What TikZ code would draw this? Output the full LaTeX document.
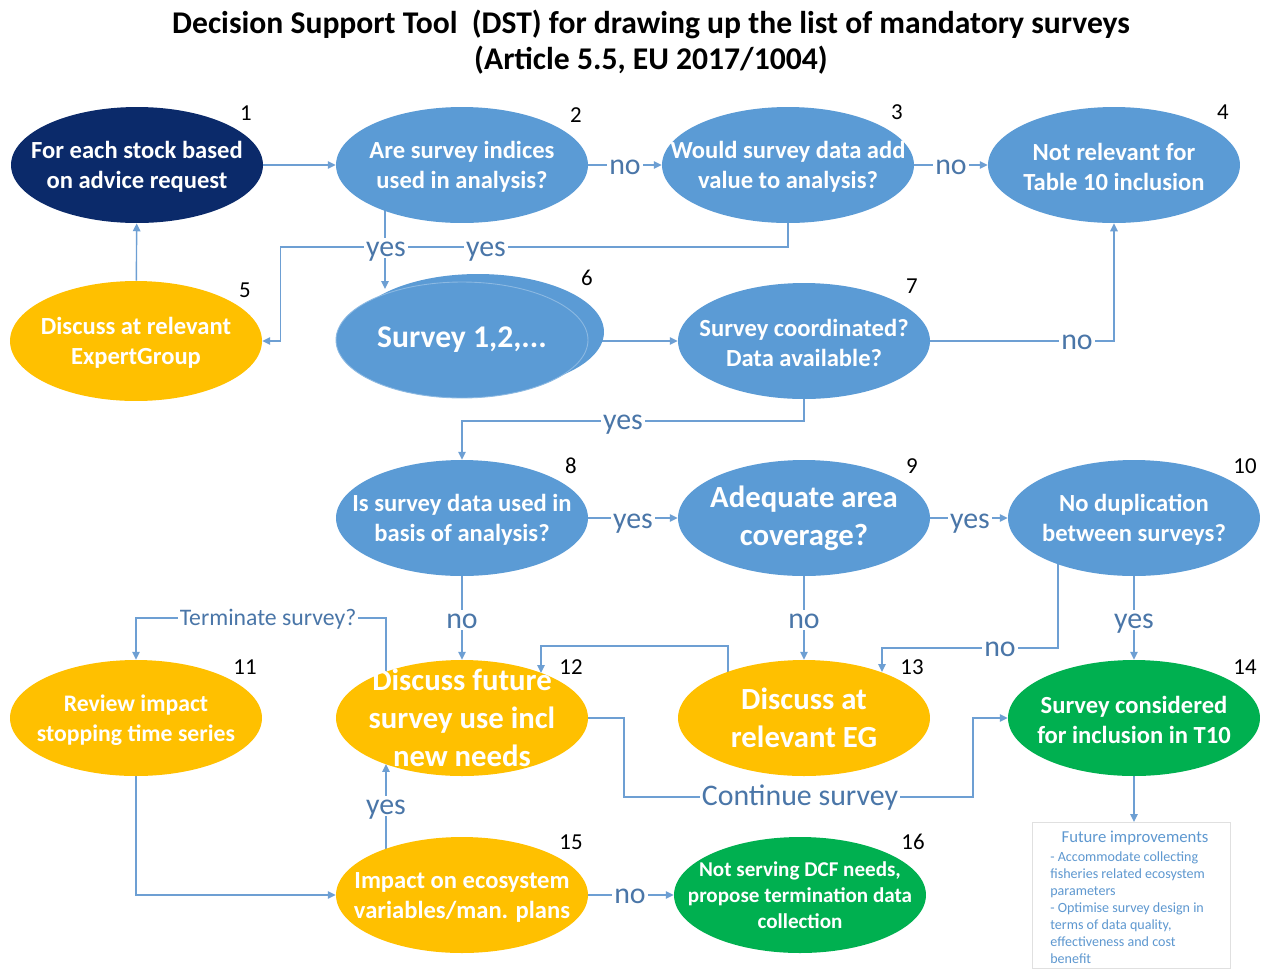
\documentclass[tikz,border=0pt]{standalone}
\usepackage{fontspec}
\setmainfont{Carlito}
\usetikzlibrary{shapes.geometric,arrows.meta,calc}
\definecolor{dstblue}{HTML}{5B9BD5}
\definecolor{dstnavy}{HTML}{0B2A6A}
\definecolor{dstorange}{HTML}{FFC000}
\definecolor{dstgreen}{HTML}{00B050}
\definecolor{linecol}{HTML}{6D9FD3}
\definecolor{lblcol}{HTML}{4A76A8}
\definecolor{fitext}{HTML}{5E98D0}
\pgfdeclarelayer{background}
\pgfsetlayers{background,main}
\begin{document}
\begin{tikzpicture}[x=0.02cm,y=-0.02cm,
  ell/.style={ellipse, minimum width=5.04cm, minimum height=2.32cm, inner sep=0pt},
  bluenode/.style={ell, fill=dstblue},
  navynode/.style={ell, fill=dstnavy},
  orangenode/.style={ell, fill=dstorange},
  greennode/.style={ell, fill=dstgreen},
  nodetext/.style={text=white, align=center, inner sep=0pt, yshift=-1.2pt, font=\bfseries\fontsize{14}{17}\selectfont},
  smalltext/.style={text=white, align=center, inner sep=0pt, font=\bfseries\fontsize{12}{14.8}\selectfont},
  bigtext/.style={text=white, align=center, inner sep=0pt, font=\bfseries\fontsize{17.5}{21.6}\selectfont},
  numlbl/.style={font=\fontsize{13}{15}\selectfont, text=black, inner sep=0pt},
  conn/.style={draw=linecol, line width=0.8pt},
  arr/.style={conn, -{Triangle[length=4.5pt,width=4.2pt]}},
  lbl/.style={fill=white, text=lblcol, inner xsep=1.2pt, inner ysep=0.5pt, text height=10pt, text depth=0pt, font=\fontsize{17}{20}\selectfont},
  smalllbl/.style={lbl, text height=8pt, font=\fontsize{13.5}{16}\selectfont},
]
\useasboundingbox (0,0) rectangle (1268,968);
\begin{pgfonlayer}{background}
\fill[white] (0,0) rectangle (1268,968);
\end{pgfonlayer}

% title
\node[font=\bfseries\fontsize{18}{20.5}\selectfont, align=center, inner sep=0pt] (title) at (651,42)
  {Decision Support Tool\ \ (DST) for drawing up the list of mandatory surveys\\(Article 5.5, EU 2017/1004)};

% ellipses
\node[navynode] (n1) at (137,165) {};
\node[bluenode] (n2) at (462,165) {};
\node[bluenode] (n3) at (788,165) {};
\node[bluenode] (n4) at (1114,165) {};
\node[orangenode, minimum height=2.4cm] (n5) at (136,341) {};
\node[bluenode] (n6b) at (478,332) {};
\node[bluenode, draw=white!30!dstblue, line width=0.5pt] (n6) at (462,340) {};
\node[bluenode] (n7) at (804,341) {};
\node[bluenode] (n8) at (462,518) {};
\node[bluenode] (n9) at (804,518) {};
\node[bluenode] (n10) at (1134,518) {};
\node[orangenode] (n11) at (136,718) {};
\node[orangenode] (n12) at (462,718) {};
\node[orangenode] (n13) at (804,718) {};
\node[greennode] (n14) at (1134,718) {};
\node[orangenode] (n15) at (462,895) {};
\node[greennode] (n16) at (800,895) {};

% texts
\node[nodetext] (t1) at (n1) {For each stock based\\on advice request};
\node[nodetext] (t2) at (n2) {Are survey indices\\used in analysis?};
\node[nodetext] (t3) at (n3) {Would survey data add\\value to analysis?};
\node[nodetext] (t4) at (n4) {Not relevant for\\Table 10 inclusion};
\node[nodetext] (t5) at (n5) {Discuss at relevant\\ExpertGroup};
\node[bigtext, font=\bfseries\fontsize{18}{21}\selectfont] (t6) at (n6) {Survey 1,2,...};
\node[nodetext] (t7) at (n7) {Survey coordinated?\\Data available?};
\node[nodetext] (t8) at (n8) {Is survey data used in\\basis of analysis?};
\node[bigtext] (t9) at (n9) {Adequate area\\coverage?};
\node[nodetext] (t10) at (n10) {No duplication\\between surveys?};
\node[nodetext, font=\bfseries\fontsize{13.5}{17}\selectfont] (t11) at (n11) {Review impact\\stopping time series};
\node[bigtext] (t12) at (n12) {Discuss future\\survey use incl\\new needs};
\node[bigtext] (t13) at (n13) {Discuss at\\relevant EG};
\node[nodetext] (t14) at (n14) {Survey considered\\for inclusion in T10};
\node[nodetext] (t15) at (n15) {Impact on ecosystem\\variables/man. plans};
\node[smalltext] (t16) at (n16) {Not serving DCF needs,\\propose termination data\\collection};

% numbers
\node[numlbl] (k1) at (246,113) {1};
\node[numlbl] (k2) at (576,115) {2};
\node[numlbl] (k3) at (897,112) {3};
\node[numlbl] (k4) at (1223,112) {4};
\node[numlbl] (k5) at (245,290) {5};
\node[numlbl] (k6) at (587,278) {6};
\node[numlbl] (k7) at (912,286) {7};
\node[numlbl] (k8) at (571,466) {8};
\node[numlbl] (k9) at (912,466) {9};
\node[numlbl] (k10) at (1245,466) {10};
\node[numlbl] (k11) at (245,667) {11};
\node[numlbl] (k12) at (571,667) {12};
\node[numlbl] (k13) at (912,667) {13};
\node[numlbl] (k14) at (1245,667) {14};
\node[numlbl] (k15) at (571,842) {15};
\node[numlbl] (k16) at (913,842) {16};

% future improvements box
\node[draw=black!12, fill=white, minimum width=3.96cm, minimum height=2.92cm, anchor=north west, inner sep=0pt] (fibox) at (1032,822) {};
\node[text=fitext, font=\fontsize{9.5}{11}\selectfont, inner sep=0pt] (fititle) at (1135,838) {Future improvements};
\node[anchor=north west, align=left, text=fitext, font=\fontsize{8}{9.7}\selectfont, inner sep=0pt] (fibody) at (1050,851)
  {- Accommodate collecting\\fisheries related ecosystem\\parameters\\- Optimise survey design in\\terms of data quality,\\effectiveness and cost\\benefit};

% connectors
\begin{pgfonlayer}{background}
\draw[arr] (n1) -- (n2);
\draw[arr] (n2) -- (n3);
\draw[arr] (n3) -- (n4);
\draw[arr] ($(n2)+(-77,0)$) -- ($(n6)+(-77,-51)$);
\draw[arr] (n3) -- ($(n3)+(0,82)$) -| ($(n5.east)+(18,0)$) -- (n5.east);
\draw[arr] (n5) -- (n1);
\draw[arr] (n6b |- n7) -- (n7);
\draw[arr] (n7) -| (n4);
\draw[arr] (n7) -- ($(n7)+(0,80)$) -| (n8);
\draw[arr] (n8) -- (n9);
\draw[arr] (n9) -- (n10);
\draw[arr] (n8) -- (n12);
\draw[arr] (n9) -- (n13);
\draw[arr] (n10) -- (n14);
\draw[arr] ($(n10)+(-76,0)$) -- ($(n10)+(-76,130)$) -- ($(n13)+(78,-70)$) -- ($(n13)+(78,-46)$);
\draw[arr] ($(n13)+(-76,0)$) -- ($(n13)+(-76,-72)$) -- ($(n12)+(79,-72)$) -- ($(n12)+(79,-45)$);
\draw[arr] ($(n12)+(-76,0)$) -- ($(n12)+(-76,-100)$) -| (n11);
\draw[arr] (n12) -- ($(n12)+(162,0)$) |- ($(n14)+(-161,79)$) |- (n14);
\draw[arr] (n11) |- (n15);
\draw[arr] ($(n15)+(-76,0)$) -- ($(n12)+(-76,46)$);
\draw[arr] (n15) -- (n16);
\draw[arr] (n14) -- (n14 |- fibox.north);
\end{pgfonlayer}

% connector labels
\node[lbl] (l23) at (625,166) {no};
\node[lbl] (l34) at (951,166) {no};
\node[lbl] (l26) at (386,248) {yes};
\node[lbl] (l35) at (486,248) {yes};
\node[lbl] (l74) at (1077,341) {no};
\node[lbl] (l78) at (623,421) {yes};
\node[lbl] (l89) at (633,520) {yes};
\node[lbl] (l910) at (970,520) {yes};
\node[lbl] (l812) at (462,620) {no};
\node[lbl] (l913) at (804,620) {no};
\node[lbl] (l1014) at (1134,620) {yes};
\node[lbl] (l1013) at (1000,648) {no};
\node[smalllbl] (l1211) at (268,618) {Terminate survey?};
\node[lbl] (l1214) at (800,797) {Continue survey};
\node[lbl] (l1512) at (386,806) {yes};
\node[lbl] (l1516) at (630,895) {no};
\end{tikzpicture}
\end{document}
